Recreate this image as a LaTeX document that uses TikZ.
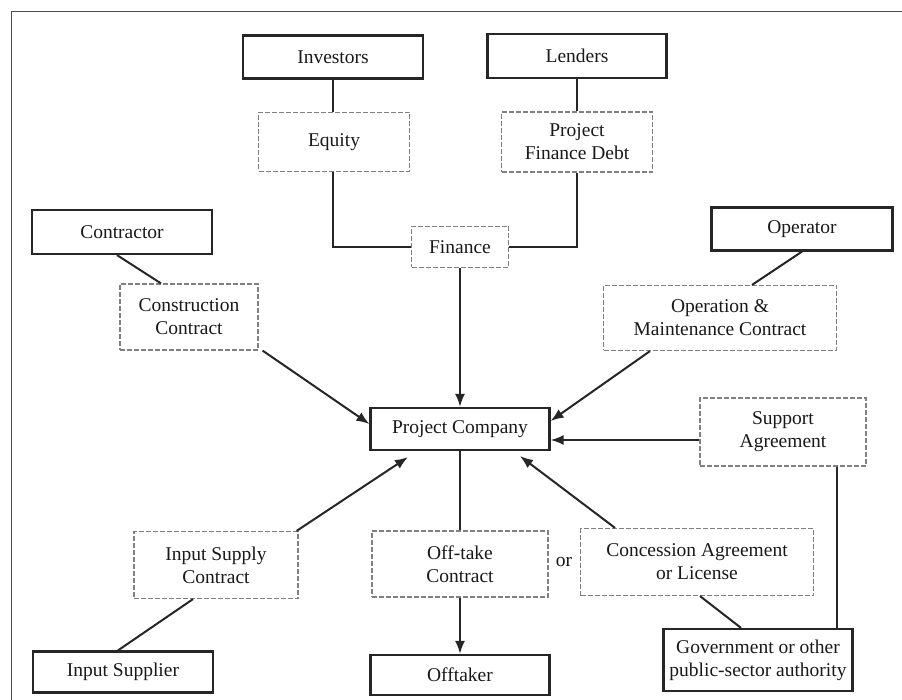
\documentclass[tikz,border=0pt]{standalone}
\usepackage{fontspec}
\setmainfont{Liberation Serif}
\usepackage{tikz}
\usetikzlibrary{arrows.meta, positioning}

\tikzset{
    party/.style={draw=black!85, line width=2.2pt, inner sep=0pt, align=center},
    contract/.style={draw=black!50, line width=1.2pt, dash pattern=on 5pt off 2pt,
        inner sep=0pt, align=center},
    link/.style={draw=black!85, line width=2pt},
    flow/.style={link, -{Latex[length=13pt, width=10pt]}}
}

\begin{document}
\begin{tikzpicture}[x=1pt, y=-1pt, font=\fontsize{19.5}{23}\selectfont, text=black!90]
    \useasboundingbox (0,0) rectangle (902,700);
    \draw[black!70, line width=1pt] (11,700) -- (11,12) -- (902,12);

    % Nodes
    \node (inv) at (333, 57)[party, minimum width=180pt, minimum height=43pt] {Investors};
    \node (lend) at (577, 56)[party, minimum width=179pt, minimum height=44pt] {Lenders};
    \node (equity) at (334, 142)[contract, minimum width=151pt, minimum height=59pt] {Equity};
    \node (debt) at (577, 142)[contract, minimum width=151pt, minimum height=60pt] {Project\\Finance Debt};
    \node (fin) at (460, 247)[contract, minimum width=97pt, minimum height=41pt] {Finance};
    \node (contr) at (122, 232)[party, minimum width=180pt, minimum height=44pt] {Contractor};
    \node (cons) at (189, 317)[contract, minimum width=138pt, minimum height=66pt] {Construction\\Contract};
    \node (oper) at (802, 229)[party, minimum width=181pt, minimum height=43pt] {Operator};
    \node (om) at (720, 318)[contract, minimum width=233pt, minimum height=65pt] {Operation \&\\Maintenance Contract};
    \node (pc) at (460, 429)[party, minimum width=179pt, minimum height=42pt] {Project Company};
    \node (supp) at (783, 432)[contract, minimum width=166pt, minimum height=68pt] {Support\\Agreement};
    \node (isc) at (216, 565)[contract, minimum width=164pt, minimum height=67pt] {Input Supply\\Contract};
    \node (offc) at (460, 564)[contract, minimum width=176pt, minimum height=66pt] {Off-take\\Contract};
    \node (or) at (564, 562) {or};
    \node (conc) at (697, 562)[contract, minimum width=233pt, minimum height=67pt] {Concession Agreement\\or License};
    \node (insup) at (123, 672)[party, minimum width=180pt, minimum height=41pt] {Input Supplier};
    \node (offt) at (460, 675)[party, minimum width=179pt, minimum height=40pt] {Offtaker};
    \node (gov) at (758, 660)[party, minimum width=189pt, minimum height=62pt] {Government or other\\public-sector authority};

    % edges
    \draw[link] (inv.south) -- (inv.south |- equity.north);
    \draw[link] (inv.south |- equity.south) |- (fin.west);
    \draw[link] (lend) -- (debt);
    \draw[link] (debt.south) |- (fin.east);
    \draw[flow] (fin) -- (pc);
    \draw[link] ([xshift=-5pt]contr.south) -- ([xshift=-28pt]cons.north);
    \draw[flow] ([xshift=4pt]cons.south east) -- ([yshift=5pt]pc.west);
    \draw[link] (oper.south) -- ([xshift=32pt]om.north);
    \draw[flow] ([xshift=-70pt]om.south) -- ([yshift=8pt]pc.east);
    \draw[flow] ([yshift=-8pt]supp.west) -- ([yshift=-8pt]supp.west -| pc.east);
    \draw[flow] ([xshift=-2pt]isc.north east) -- ([xshift=-52pt, yshift=-6pt]pc.south);
    \draw[link] ([xshift=-5pt]insup.north) -- ([xshift=-23pt]isc.south);
    \draw[link] (pc) -- (offc);
    \draw[flow] (offc) -- (offt);
    \draw[flow] ([xshift=-82pt]conc.north) -- ([xshift=60pt, yshift=-5pt]pc.south);
    \draw[link] ([xshift=3pt]conc.south) -- ([xshift=-17pt]gov.north);
    \draw[link] ([xshift=54pt]supp.south) -- ([xshift=54pt]supp.south |- gov.north);

\end{tikzpicture}
\end{document}
